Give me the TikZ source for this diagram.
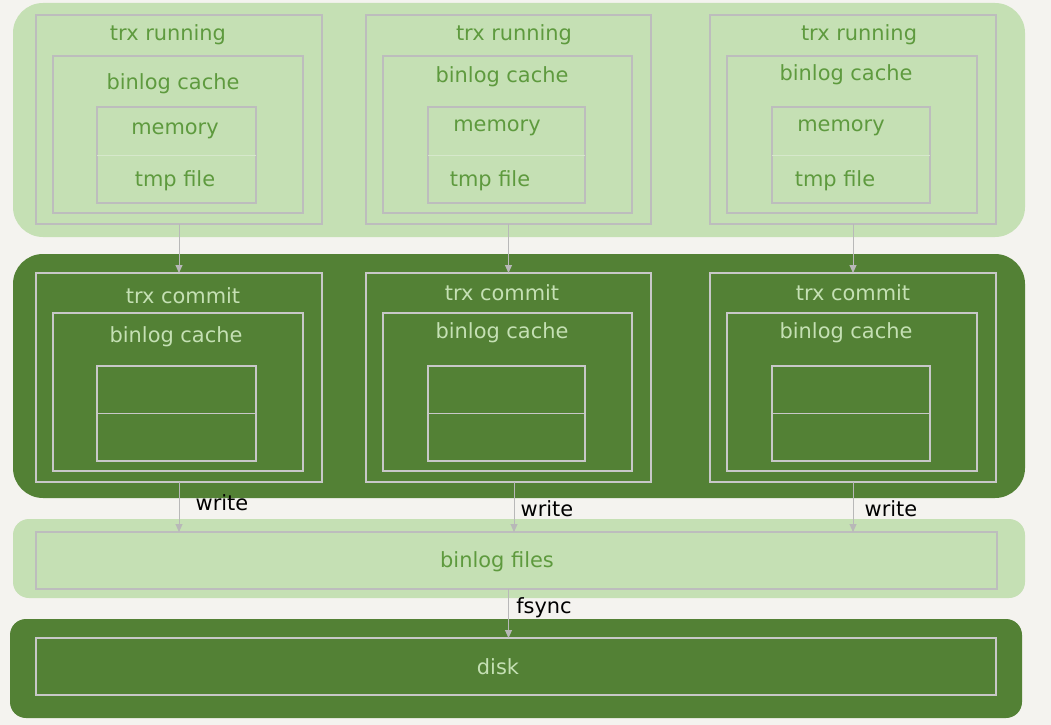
\documentclass[tikz,border=0pt]{standalone}
\usepackage{fontspec}
\setmainfont{DejaVu Sans}
\usetikzlibrary{arrows.meta,calc}
\definecolor{bg}{HTML}{F4F3EF}
\definecolor{lg}{HTML}{C5E0B4}
\definecolor{dg}{HTML}{538135}
\definecolor{lline}{HTML}{BDBDBD}
\definecolor{ldiv}{HTML}{D6E8CB}
\definecolor{dline}{HTML}{C8C8C8}
\definecolor{ltext}{HTML}{5E9A3E}
\definecolor{dtext}{HTML}{C5E0B4}
\definecolor{arrc}{HTML}{B8B8B8}
\newcommand\mkbox[6]{%
  \pgfmathsetmacro\bw{#4-#2}\pgfmathsetmacro\bh{#5-#3}%
  \node[#6,anchor=north west,inner sep=0pt,outer sep=0pt,minimum width=\bw bp,minimum height=\bh bp] (#1) at (#2,#3) {};}
\tikzset{
  lightband/.style={fill=lg,draw=none,rounded corners=30bp},
  darkband/.style={fill=dg,draw=none,rounded corners=30bp},
  lightstrip/.style={fill=lg,draw=none,rounded corners=16bp},
  darkstrip/.style={fill=dg,draw=none,rounded corners=16bp},
  lbox/.style={draw=lline,line width=1.1bp},
  dbox/.style={draw=dline,line width=1.1bp},
  lab/.style={inner sep=0pt,font=\fontsize{21}{24}\selectfont},
  ltxt/.style={lab,text=ltext},
  dtxt/.style={lab,text=dtext},
  wtxt/.style={lab,text=black},
  arr/.style={draw=arrc,line width=1bp,-{Triangle[width=7bp,length=8bp]}},
}
\begin{document}
\begin{tikzpicture}[x=1bp,y=-1bp]
\fill[bg] (0,0) rectangle (1051,725);
\useasboundingbox (0,0) rectangle (1051,725);
% bands
\mkbox{runband}{13}{3}{1025}{237}{lightband}
\mkbox{comband}{13}{254}{1025}{498}{darkband}
\mkbox{fileband}{13}{519}{1025}{598}{lightstrip}
\mkbox{diskband}{10}{619}{1022}{718}{darkstrip}
% running columns
\mkbox{run1}{36}{15}{322}{224}{lbox}
\mkbox{rc1}{53}{56}{303}{213}{lbox}
\mkbox{mem1}{97}{107}{256}{203}{lbox}
\mkbox{run2}{366}{15}{651}{224}{lbox}
\mkbox{rc2}{383}{56}{632}{213}{lbox}
\mkbox{mem2}{428}{107}{585}{203}{lbox}
\mkbox{run3}{710}{15}{996}{224}{lbox}
\mkbox{rc3}{727}{56}{977}{213}{lbox}
\mkbox{mem3}{772}{107}{930}{203}{lbox}
\foreach \i in {1,2,3}{\draw[ldiv,line width=1bp] (mem\i.west) -- (mem\i.east);}
% commit columns
\mkbox{com1}{36}{273}{322}{482}{dbox}
\mkbox{cc1}{53}{313}{303}{471}{dbox}
\mkbox{cm1}{97}{366}{256}{461}{dbox}
\mkbox{com2}{366}{273}{651}{482}{dbox}
\mkbox{cc2}{383}{313}{632}{471}{dbox}
\mkbox{cm2}{428}{366}{585}{461}{dbox}
\mkbox{com3}{710}{273}{996}{482}{dbox}
\mkbox{cc3}{727}{313}{977}{471}{dbox}
\mkbox{cm3}{772}{366}{930}{461}{dbox}
\foreach \i in {1,2,3}{\draw[dline,line width=1bp] (cm\i.west) -- (cm\i.east);}
% files and disk
\mkbox{binf}{36}{532}{997}{589}{lbox}
\mkbox{disk}{36}{638}{996}{695}{dbox}
% texts running
\node[ltxt] (t1) at (168,35) {trx running};
\node[ltxt] (b1) at (173,84) {binlog cache};
\node[ltxt] (m1) at (175,131) {memory};
\node[ltxt] (f1) at (175,181) {tmp file};
\node[ltxt] (t2) at (514,35) {trx running};
\node[ltxt] (b2) at (502,77) {binlog cache};
\node[ltxt] (m2) at (497,128) {memory};
\node[ltxt] (f2) at (490,181) {tmp file};
\node[ltxt] (t3) at (859,35) {trx running};
\node[ltxt] (b3) at (846,75) {binlog cache};
\node[ltxt] (m3) at (841,128) {memory};
\node[ltxt] (f3) at (835,181) {tmp file};
% texts commit
\node[dtxt] (ct1) at (183,296) {trx commit};
\node[dtxt] (cb1) at (176,337) {binlog cache};
\node[dtxt] (ct2) at (502,293) {trx commit};
\node[dtxt] (cb2) at (502,333) {binlog cache};
\node[dtxt] (ct3) at (853,293) {trx commit};
\node[dtxt] (cb3) at (846,333) {binlog cache};
\node[ltxt] (bft) at (497,562) {binlog files};
\node[dtxt] (dkt) at (498,667) {disk};
% arrows
\foreach \i in {1,2,3}{\draw[arr] (run\i.south) -- (com\i.north);}
\draw[arr] (com1.south) -- (com1.south |- binf.north);
\draw[arr] ([xshift=5.5bp]com2.south) -- ([xshift=5.5bp]com2.south |- binf.north);
\draw[arr] (com3.south) -- (com3.south |- binf.north);
\draw[arr] (com2.south |- binf.south) -- (com2.south |- disk.north);
% labels
\node[wtxt] (w1) at (222,503) {write};
\node[wtxt] (w2) at (547,509) {write};
\node[wtxt] (w3) at (891,509) {write};
\node[wtxt] (fs) at (544,608) {fsync};
\end{tikzpicture}
\end{document}
